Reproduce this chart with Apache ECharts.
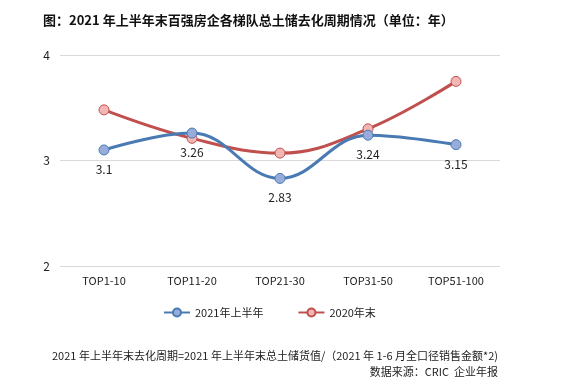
<!DOCTYPE html>
<html><head><meta charset="utf-8">
<script src="https://cdn.jsdelivr.net/npm/echarts@6/dist/echarts.min.js"></script>
<style>html,body{margin:0;padding:0;background:#fff;}#c{width:580px;height:388px;}</style>
</head><body><div id="c"></div>
<script>
const categories = ['TOP1-10','TOP11-20','TOP21-30','TOP31-50','TOP51-100'];
const h1_2021 = [3.1, 3.26, 2.83, 3.24, 3.15];
const end_2020 = [3.48, 3.21, 3.07, 3.30, 3.75];
const seriesNames = ['2021年上半年','2020年末'];
const yTicks = [2, 3, 4];
const titleText = '图：2021 年上半年末百强房企各梯队总土储去化周期情况（单位：年）';
const note1 = '2021 年上半年末去化周期=2021 年上半年末总土储货值/（2021 年 1-6 月全口径销售金额*2)';
const note2 = '数据来源：CRIC  企业年报';
const font = '"Microsoft YaHei","Noto Sans CJK SC",sans-serif';
const chart = echarts.init(document.getElementById('c'));
chart.setOption({
  animation:false,
  textStyle:{fontFamily:font},
  title:[
    {text:titleText,left:38,top:9,textStyle:{fontSize:13,fontWeight:'bold',color:'#111',fontFamily:font}},
    {text:note1,right:77,top:345,textStyle:{fontSize:11,fontWeight:'normal',color:'#222',fontFamily:font}},
    {text:note2,right:77,top:361,textStyle:{fontSize:11,fontWeight:'normal',color:'#222',fontFamily:font}}
  ],
  legend:{top:302,left:158,itemGap:34,itemWidth:26,itemHeight:10,
    textStyle:{fontSize:11,color:'#222',fontFamily:font},
    data:seriesNames},
  grid:{left:60,right:80,top:55,bottom:122},
  xAxis:{type:'category',data:categories,boundaryGap:true,
    axisLine:{show:false},axisTick:{show:false},
    axisLabel:{fontSize:11,color:'#222',margin:9}},
  yAxis:{type:'value',min:yTicks[0],max:yTicks[yTicks.length-1],interval:1,
    axisLine:{show:false},axisTick:{show:false},
    axisLabel:{fontSize:12,color:'#222',margin:10}},
  series:[
    {name:seriesNames[1],type:'line',data:end_2020,smooth:0.4,symbol:'circle',symbolSize:10,
      lineStyle:{color:'#c0504d',width:3},
      itemStyle:{color:'#f2b6b5',borderColor:'#c0504d',borderWidth:1},
      label:{show:false}},
    {name:seriesNames[0],type:'line',data:h1_2021,smooth:0.4,symbol:'circle',symbolSize:10,
      lineStyle:{color:'#4a7ab3',width:3},
      itemStyle:{color:'#98acdc',borderColor:'#4a7ab3',borderWidth:1},
      label:{show:true,position:'bottom',distance:8,fontSize:12,color:'#222'}}
  ]
});
chart.setOption({yAxis:{splitLine:{lineStyle:{color:'#d9d9d9',width:1}}}});
</script></body></html>
